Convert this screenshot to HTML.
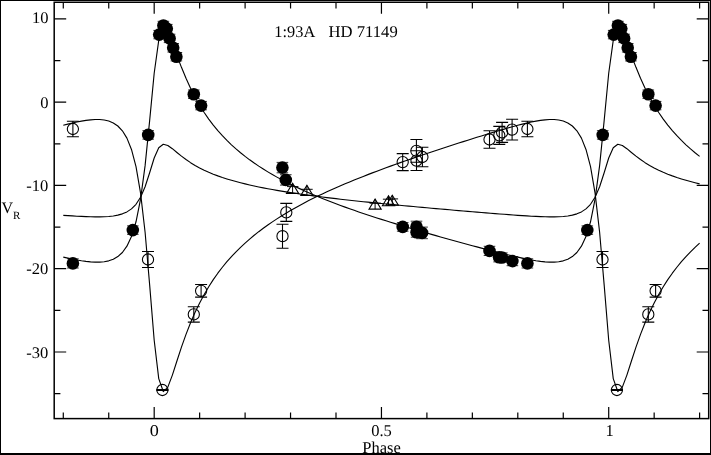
<!DOCTYPE html>
<html><head><meta charset="utf-8"><title>HD 71149</title>
<style>
html,body{margin:0;padding:0;background:#fff;}
body{width:711px;height:455px;overflow:hidden;position:relative;font-family:"Liberation Serif",serif;}
svg{display:block;}
</style></head><body>
<svg width="711" height="455" viewBox="0 0 711 455" style="position:absolute;left:0;top:0">
<rect x="0" y="0" width="711" height="455" fill="#fff"/>
<rect x="0" y="0" width="711" height="1" fill="#000"/>
<rect x="0" y="0" width="1" height="455" fill="#000"/>
<rect x="710" y="0" width="1" height="455" fill="#000"/>
<rect x="0" y="453" width="711" height="2" fill="#000"/>
<path d="M63.29,418.6 V412.40 M63.29,2.25 V8.45 M108.74,418.6 V412.40 M108.74,2.25 V8.45 M154.19,418.6 V407.10 M154.19,2.25 V13.75 M199.64,418.6 V412.40 M199.64,2.25 V8.45 M245.10,418.6 V412.40 M245.10,2.25 V8.45 M290.55,418.6 V412.40 M290.55,2.25 V8.45 M336.00,418.6 V412.40 M336.00,2.25 V8.45 M381.45,418.6 V407.10 M381.45,2.25 V13.75 M426.90,418.6 V412.40 M426.90,2.25 V8.45 M472.35,418.6 V412.40 M472.35,2.25 V8.45 M517.80,418.6 V412.40 M517.80,2.25 V8.45 M563.26,418.6 V412.40 M563.26,2.25 V8.45 M608.71,418.6 V407.10 M608.71,2.25 V13.75 M654.16,418.6 V412.40 M654.16,2.25 V8.45 M699.61,418.6 V412.40 M699.61,2.25 V8.45 M54.2,393.62 H60.40 M708.7,393.62 H702.50 M54.2,351.98 H66.20 M708.7,351.98 H696.70 M54.2,310.35 H60.40 M708.7,310.35 H702.50 M54.2,268.71 H66.20 M708.7,268.71 H696.70 M54.2,227.08 H60.40 M708.7,227.08 H702.50 M54.2,185.44 H66.20 M708.7,185.44 H696.70 M54.2,143.81 H60.40 M708.7,143.81 H702.50 M54.2,102.17 H66.20 M708.7,102.17 H696.70 M54.2,60.54 H60.40 M708.7,60.54 H702.50 M54.2,18.90 H66.20 M708.7,18.90 H696.70" stroke="#000" stroke-width="1.2" fill="none"/>
<rect x="54.2" y="2.25" width="654.50" height="416.35" fill="none" stroke="#000" stroke-width="1.5"/>
<path d="M63.29,257.17 L67.84,258.16 L72.38,259.10 L76.93,259.96 L81.47,260.72 L86.02,261.37 L90.56,261.85 L95.11,262.12 L99.65,262.11 L104.20,261.73 L108.74,260.83 L113.29,259.22 L117.83,256.59 L122.38,252.48 L126.92,246.18 L131.47,236.54 L136.01,221.77 L140.56,199.18 L145.10,165.63 L149.65,120.67 L154.19,73.26 L158.74,40.44 L163.28,29.35 L167.83,33.15 L172.37,43.43 L176.92,55.49 L181.46,67.33 L186.01,78.30 L190.55,88.23 L195.10,97.16 L199.64,105.21 L204.19,112.48 L208.73,119.08 L213.28,125.10 L217.83,130.62 L222.37,135.72 L226.92,140.44 L231.46,144.83 L236.01,148.94 L240.55,152.79 L245.10,156.41 L249.64,159.83 L254.19,163.07 L258.73,166.15 L263.28,169.09 L267.82,171.89 L272.37,174.57 L276.91,177.13 L281.46,179.60 L286.00,181.98 L290.55,184.27 L295.09,186.49 L299.64,188.63 L304.18,190.71 L308.73,192.73 L313.27,194.69 L317.82,196.59 L322.36,198.45 L326.91,200.26 L331.45,202.03 L336.00,203.76 L340.54,205.46 L345.09,207.12 L349.63,208.74 L354.18,210.34 L358.72,211.91 L363.27,213.45 L367.81,214.96 L372.36,216.46 L376.90,217.93 L381.45,219.38 L386.00,220.82 L390.54,222.23 L395.09,223.63 L399.63,225.01 L404.18,226.38 L408.72,227.74 L413.27,229.08 L417.81,230.41 L422.36,231.73 L426.90,233.04 L431.45,234.34 L435.99,235.63 L440.54,236.92 L445.08,238.19 L449.63,239.45 L454.17,240.71 L458.72,241.96 L463.26,243.21 L467.81,244.44 L472.35,245.67 L476.90,246.89 L481.44,248.10 L485.99,249.29 L490.53,250.48 L495.08,251.65 L499.62,252.81 L504.17,253.94 L508.71,255.05 L513.26,256.13 L517.80,257.17 L522.35,258.16 L526.89,259.10 L531.44,259.96 L535.98,260.72 L540.53,261.37 L545.08,261.85 L549.62,262.12 L554.17,262.11 L558.71,261.73 L563.26,260.83 L567.80,259.22 L572.35,256.59 L576.89,252.48 L581.44,246.18 L585.98,236.54 L590.53,221.77 L595.07,199.18 L599.62,165.63 L604.16,120.67 L608.71,73.26 L613.25,40.44 L617.80,29.35 L622.34,33.15 L626.89,43.43 L631.43,55.49 L635.98,67.33 L640.52,78.30 L645.07,88.23 L649.61,97.16 L654.16,105.21 L658.70,112.48 L663.25,119.08 L667.79,125.10 L672.34,130.62 L676.88,135.72 L681.43,140.44 L685.97,144.83 L690.52,148.94 L695.06,152.79 L699.61,156.41" fill="none" stroke="#000" stroke-width="1.12" stroke-linejoin="round"/>
<path d="M63.29,125.32 L67.84,124.16 L72.38,123.06 L76.93,122.06 L81.47,121.16 L86.02,120.41 L90.56,119.85 L95.11,119.53 L99.65,119.54 L104.20,119.99 L108.74,121.04 L113.29,122.93 L117.83,126.00 L122.38,130.80 L126.92,138.16 L131.47,149.42 L136.01,166.69 L140.56,193.09 L145.10,232.29 L149.65,284.83 L154.19,340.23 L158.74,378.59 L163.28,391.55 L167.83,387.11 L172.37,375.09 L176.92,361.01 L181.46,347.16 L186.01,334.35 L190.55,322.74 L195.10,312.30 L199.64,302.90 L204.19,294.41 L208.73,286.69 L213.28,279.66 L217.83,273.20 L222.37,267.24 L226.92,261.73 L231.46,256.60 L236.01,251.80 L240.55,247.30 L245.10,243.07 L249.64,239.07 L254.19,235.28 L258.73,231.68 L263.28,228.25 L267.82,224.98 L272.37,221.85 L276.91,218.85 L281.46,215.96 L286.00,213.18 L290.55,210.50 L295.09,207.91 L299.64,205.41 L304.18,202.98 L308.73,200.62 L313.27,198.33 L317.82,196.11 L322.36,193.94 L326.91,191.82 L331.45,189.75 L336.00,187.73 L340.54,185.75 L345.09,183.81 L349.63,181.91 L354.18,180.04 L358.72,178.21 L363.27,176.41 L367.81,174.64 L372.36,172.89 L376.90,171.17 L381.45,169.47 L386.00,167.80 L390.54,166.15 L395.09,164.51 L399.63,162.89 L404.18,161.29 L408.72,159.71 L413.27,158.14 L417.81,156.59 L422.36,155.04 L426.90,153.51 L431.45,151.99 L435.99,150.48 L440.54,148.99 L445.08,147.50 L449.63,146.02 L454.17,144.55 L458.72,143.09 L463.26,141.63 L467.81,140.19 L472.35,138.76 L476.90,137.33 L481.44,135.92 L485.99,134.52 L490.53,133.14 L495.08,131.77 L499.62,130.42 L504.17,129.09 L508.71,127.80 L513.26,126.53 L517.80,125.32 L522.35,124.16 L526.89,123.06 L531.44,122.06 L535.98,121.16 L540.53,120.41 L545.08,119.85 L549.62,119.53 L554.17,119.54 L558.71,119.99 L563.26,121.04 L567.80,122.93 L572.35,126.00 L576.89,130.80 L581.44,138.16 L585.98,149.42 L590.53,166.69 L595.07,193.09 L599.62,232.29 L604.16,284.83 L608.71,340.23 L613.25,378.59 L617.80,391.55 L622.34,387.11 L626.89,375.09 L631.43,361.01 L635.98,347.16 L640.52,334.35 L645.07,322.74 L649.61,312.30 L654.16,302.90 L658.70,294.41 L663.25,286.69 L667.79,279.66 L672.34,273.20 L676.88,267.24 L681.43,261.73 L685.97,256.60 L690.52,251.80 L695.06,247.30 L699.61,243.07" fill="none" stroke="#000" stroke-width="1.12" stroke-linejoin="round"/>
<path d="M63.29,215.32 L67.84,215.63 L72.38,215.92 L76.93,216.19 L81.47,216.42 L86.02,216.62 L90.56,216.77 L95.11,216.86 L99.65,216.86 L104.20,216.74 L108.74,216.46 L113.29,215.95 L117.83,215.13 L122.38,213.85 L126.92,211.89 L131.47,208.89 L136.01,204.28 L140.56,197.24 L145.10,186.78 L149.65,172.77 L154.19,157.99 L158.74,147.76 L163.28,144.30 L167.83,145.49 L172.37,148.69 L176.92,152.45 L181.46,156.14 L186.01,159.56 L190.55,162.66 L195.10,165.44 L199.64,167.95 L204.19,170.21 L208.73,172.27 L213.28,174.15 L217.83,175.87 L222.37,177.46 L226.92,178.93 L231.46,180.30 L236.01,181.58 L240.55,182.78 L245.10,183.91 L249.64,184.98 L254.19,185.99 L258.73,186.95 L263.28,187.86 L267.82,188.73 L272.37,189.57 L276.91,190.37 L281.46,191.14 L286.00,191.88 L290.55,192.59 L295.09,193.28 L299.64,193.95 L304.18,194.60 L308.73,195.23 L313.27,195.84 L317.82,196.43 L322.36,197.01 L326.91,197.58 L331.45,198.13 L336.00,198.67 L340.54,199.20 L345.09,199.71 L349.63,200.22 L354.18,200.72 L358.72,201.21 L363.27,201.69 L367.81,202.16 L372.36,202.63 L376.90,203.09 L381.45,203.54 L386.00,203.98 L390.54,204.43 L395.09,204.86 L399.63,205.29 L404.18,205.72 L408.72,206.14 L413.27,206.56 L417.81,206.98 L422.36,207.39 L426.90,207.80 L431.45,208.20 L435.99,208.60 L440.54,209.00 L445.08,209.40 L449.63,209.79 L454.17,210.19 L458.72,210.58 L463.26,210.96 L467.81,211.35 L472.35,211.73 L476.90,212.11 L481.44,212.49 L485.99,212.86 L490.53,213.23 L495.08,213.60 L499.62,213.96 L504.17,214.31 L508.71,214.66 L513.26,214.99 L517.80,215.32 L522.35,215.63 L526.89,215.92 L531.44,216.19 L535.98,216.42 L540.53,216.62 L545.08,216.77 L549.62,216.86 L554.17,216.86 L558.71,216.74 L563.26,216.46 L567.80,215.95 L572.35,215.13 L576.89,213.85 L581.44,211.89 L585.98,208.89 L590.53,204.28 L595.07,197.24 L599.62,186.78 L604.16,172.77 L608.71,157.99 L613.25,147.76 L617.80,144.30 L622.34,145.49 L626.89,148.69 L631.43,152.45 L635.98,156.14 L640.52,159.56 L645.07,162.66 L649.61,165.44 L654.16,167.95 L658.70,170.21 L663.25,172.27 L667.79,174.15 L672.34,175.87 L676.88,177.46 L681.43,178.93 L685.97,180.30 L690.52,181.58 L695.06,182.78 L699.61,183.91" fill="none" stroke="#000" stroke-width="1.12" stroke-linejoin="round"/>
<path d="M292.60,183.40 L298.70,193.40 L286.50,193.40 Z" fill="none" stroke="#000" stroke-width="1.08" stroke-linejoin="miter"/>
<path d="M292.60,183.40 V193.40 M287.00,186.60 H298.40" fill="none" stroke="#000" stroke-width="0.98"/>
<path d="M306.90,185.40 L313.00,195.40 L300.80,195.40 Z" fill="none" stroke="#000" stroke-width="1.08" stroke-linejoin="miter"/>
<path d="M306.90,185.40 V195.40 M301.30,189.30 H312.70" fill="none" stroke="#000" stroke-width="0.98"/>
<path d="M375.10,199.10 L381.20,209.10 L369.00,209.10 Z" fill="none" stroke="#000" stroke-width="1.08" stroke-linejoin="miter"/>
<path d="M375.10,199.10 V209.10 M369.50,203.20 H380.90" fill="none" stroke="#000" stroke-width="0.98"/>
<path d="M388.50,195.80 L394.60,205.80 L382.40,205.80 Z" fill="none" stroke="#000" stroke-width="1.08" stroke-linejoin="miter"/>
<path d="M388.50,195.80 V205.80 M382.90,199.20 H394.30" fill="none" stroke="#000" stroke-width="0.98"/>
<path d="M392.30,195.30 L398.40,205.30 L386.20,205.30 Z" fill="none" stroke="#000" stroke-width="1.08" stroke-linejoin="miter"/>
<path d="M392.30,195.30 V205.30 M386.70,198.90 H398.10" fill="none" stroke="#000" stroke-width="0.98"/>
<circle cx="148.00" cy="259.50" r="5.6" fill="none" stroke="#000" stroke-width="1.08"/>
<path d="M148.00,251.50 V267.50 M142.00,251.50 H154.00 M142.00,267.50 H154.00" fill="none" stroke="#000" stroke-width="1.08"/>
<circle cx="602.51" cy="259.50" r="5.6" fill="none" stroke="#000" stroke-width="1.08"/>
<path d="M602.51,251.50 V267.50 M596.51,251.50 H608.51 M596.51,267.50 H608.51" fill="none" stroke="#000" stroke-width="1.08"/>
<circle cx="162.40" cy="390.00" r="5.6" fill="none" stroke="#000" stroke-width="1.08"/>
<path d="M162.40,389.65 V390.35 M156.40,389.65 H168.40 M156.40,390.35 H168.40" fill="none" stroke="#000" stroke-width="1.08"/>
<circle cx="616.91" cy="390.00" r="5.6" fill="none" stroke="#000" stroke-width="1.08"/>
<path d="M616.91,389.65 V390.35 M610.91,389.65 H622.91 M610.91,390.35 H622.91" fill="none" stroke="#000" stroke-width="1.08"/>
<circle cx="193.80" cy="314.40" r="5.6" fill="none" stroke="#000" stroke-width="1.08"/>
<path d="M193.80,306.70 V322.10 M187.80,306.70 H199.80 M187.80,322.10 H199.80" fill="none" stroke="#000" stroke-width="1.08"/>
<circle cx="648.31" cy="314.40" r="5.6" fill="none" stroke="#000" stroke-width="1.08"/>
<path d="M648.31,306.70 V322.10 M642.31,306.70 H654.31 M642.31,322.10 H654.31" fill="none" stroke="#000" stroke-width="1.08"/>
<circle cx="201.10" cy="290.80" r="5.6" fill="none" stroke="#000" stroke-width="1.08"/>
<path d="M201.10,284.50 V297.10 M195.10,284.50 H207.10 M195.10,297.10 H207.10" fill="none" stroke="#000" stroke-width="1.08"/>
<circle cx="655.61" cy="290.80" r="5.6" fill="none" stroke="#000" stroke-width="1.08"/>
<path d="M655.61,284.50 V297.10 M649.61,284.50 H661.61 M649.61,297.10 H661.61" fill="none" stroke="#000" stroke-width="1.08"/>
<circle cx="282.50" cy="236.20" r="5.6" fill="none" stroke="#000" stroke-width="1.08"/>
<path d="M282.50,224.20 V248.20 M276.50,224.20 H288.50 M276.50,248.20 H288.50" fill="none" stroke="#000" stroke-width="1.08"/>
<circle cx="286.30" cy="212.40" r="5.6" fill="none" stroke="#000" stroke-width="1.08"/>
<path d="M286.30,203.40 V221.40 M280.30,203.40 H292.30 M280.30,221.40 H292.30" fill="none" stroke="#000" stroke-width="1.08"/>
<circle cx="402.70" cy="162.10" r="5.6" fill="none" stroke="#000" stroke-width="1.08"/>
<path d="M402.70,153.60 V170.60 M396.70,153.60 H408.70 M396.70,170.60 H408.70" fill="none" stroke="#000" stroke-width="1.08"/>
<circle cx="416.40" cy="150.90" r="5.6" fill="none" stroke="#000" stroke-width="1.08"/>
<path d="M416.40,139.50 V162.30 M410.40,139.50 H422.40 M410.40,162.30 H422.40" fill="none" stroke="#000" stroke-width="1.08"/>
<circle cx="416.50" cy="160.60" r="5.6" fill="none" stroke="#000" stroke-width="1.08"/>
<path d="M416.50,150.70 V170.50 M410.50,150.70 H422.50 M410.50,170.50 H422.50" fill="none" stroke="#000" stroke-width="1.08"/>
<circle cx="422.40" cy="157.00" r="5.6" fill="none" stroke="#000" stroke-width="1.08"/>
<path d="M422.40,147.20 V166.80 M416.40,147.20 H428.40 M416.40,166.80 H428.40" fill="none" stroke="#000" stroke-width="1.08"/>
<circle cx="489.50" cy="139.50" r="5.6" fill="none" stroke="#000" stroke-width="1.08"/>
<path d="M489.50,130.80 V148.20 M483.50,130.80 H495.50 M483.50,148.20 H495.50" fill="none" stroke="#000" stroke-width="1.08"/>
<circle cx="499.30" cy="135.40" r="5.6" fill="none" stroke="#000" stroke-width="1.08"/>
<path d="M499.30,126.40 V144.40 M493.30,126.40 H505.30 M493.30,144.40 H505.30" fill="none" stroke="#000" stroke-width="1.08"/>
<circle cx="502.10" cy="132.40" r="5.6" fill="none" stroke="#000" stroke-width="1.08"/>
<path d="M502.10,122.40 V142.40 M496.10,122.40 H508.10 M496.10,142.40 H508.10" fill="none" stroke="#000" stroke-width="1.08"/>
<circle cx="512.10" cy="129.60" r="5.6" fill="none" stroke="#000" stroke-width="1.08"/>
<path d="M512.10,119.20 V140.00 M506.10,119.20 H518.10 M506.10,140.00 H518.10" fill="none" stroke="#000" stroke-width="1.08"/>
<circle cx="72.89" cy="129.00" r="5.6" fill="none" stroke="#000" stroke-width="1.08"/>
<path d="M72.89,121.20 V136.80 M66.89,121.20 H78.89 M66.89,136.80 H78.89" fill="none" stroke="#000" stroke-width="1.08"/>
<circle cx="527.40" cy="129.00" r="5.6" fill="none" stroke="#000" stroke-width="1.08"/>
<path d="M527.40,121.20 V136.80 M521.40,121.20 H533.40 M521.40,136.80 H533.40" fill="none" stroke="#000" stroke-width="1.08"/>
<circle cx="132.80" cy="230.10" r="6.3" fill="#000"/>
<path d="M127.00,225.90 H138.60 M127.00,234.30 H138.60" fill="none" stroke="#000" stroke-width="0.8"/>
<circle cx="587.31" cy="230.10" r="6.3" fill="#000"/>
<path d="M581.51,225.90 H593.11 M581.51,234.30 H593.11" fill="none" stroke="#000" stroke-width="0.8"/>
<circle cx="148.20" cy="134.90" r="6.3" fill="#000"/>
<path d="M142.40,130.70 H154.00 M142.40,139.10 H154.00" fill="none" stroke="#000" stroke-width="0.8"/>
<circle cx="602.71" cy="134.90" r="6.3" fill="#000"/>
<path d="M596.91,130.70 H608.51 M596.91,139.10 H608.51" fill="none" stroke="#000" stroke-width="0.8"/>
<circle cx="159.20" cy="34.60" r="6.3" fill="#000"/>
<path d="M153.40,30.40 H165.00 M153.40,38.80 H165.00" fill="none" stroke="#000" stroke-width="0.8"/>
<circle cx="613.71" cy="34.60" r="6.3" fill="#000"/>
<path d="M607.91,30.40 H619.51 M607.91,38.80 H619.51" fill="none" stroke="#000" stroke-width="0.8"/>
<circle cx="163.40" cy="25.50" r="6.3" fill="#000"/>
<path d="M157.60,21.30 H169.20 M157.60,29.70 H169.20" fill="none" stroke="#000" stroke-width="0.8"/>
<circle cx="617.91" cy="25.50" r="6.3" fill="#000"/>
<path d="M612.11,21.30 H623.71 M612.11,29.70 H623.71" fill="none" stroke="#000" stroke-width="0.8"/>
<circle cx="166.80" cy="28.60" r="6.3" fill="#000"/>
<path d="M161.00,24.40 H172.60 M161.00,32.80 H172.60" fill="none" stroke="#000" stroke-width="0.8"/>
<circle cx="621.31" cy="28.60" r="6.3" fill="#000"/>
<path d="M615.51,24.40 H627.11 M615.51,32.80 H627.11" fill="none" stroke="#000" stroke-width="0.8"/>
<circle cx="169.60" cy="38.40" r="6.3" fill="#000"/>
<path d="M163.80,34.20 H175.40 M163.80,42.60 H175.40" fill="none" stroke="#000" stroke-width="0.8"/>
<circle cx="624.11" cy="38.40" r="6.3" fill="#000"/>
<path d="M618.31,34.20 H629.91 M618.31,42.60 H629.91" fill="none" stroke="#000" stroke-width="0.8"/>
<circle cx="173.20" cy="47.80" r="6.3" fill="#000"/>
<path d="M167.40,43.60 H179.00 M167.40,52.00 H179.00" fill="none" stroke="#000" stroke-width="0.8"/>
<circle cx="627.71" cy="47.80" r="6.3" fill="#000"/>
<path d="M621.91,43.60 H633.51 M621.91,52.00 H633.51" fill="none" stroke="#000" stroke-width="0.8"/>
<circle cx="176.40" cy="56.70" r="6.3" fill="#000"/>
<path d="M170.60,52.50 H182.20 M170.60,60.90 H182.20" fill="none" stroke="#000" stroke-width="0.8"/>
<circle cx="630.91" cy="56.70" r="6.3" fill="#000"/>
<path d="M625.11,52.50 H636.71 M625.11,60.90 H636.71" fill="none" stroke="#000" stroke-width="0.8"/>
<circle cx="193.80" cy="94.20" r="6.3" fill="#000"/>
<path d="M188.00,90.00 H199.60 M188.00,98.40 H199.60" fill="none" stroke="#000" stroke-width="0.8"/>
<circle cx="648.31" cy="94.20" r="6.3" fill="#000"/>
<path d="M642.51,90.00 H654.11 M642.51,98.40 H654.11" fill="none" stroke="#000" stroke-width="0.8"/>
<circle cx="201.10" cy="105.60" r="6.3" fill="#000"/>
<path d="M195.30,101.40 H206.90 M195.30,109.80 H206.90" fill="none" stroke="#000" stroke-width="0.8"/>
<circle cx="655.61" cy="105.60" r="6.3" fill="#000"/>
<path d="M649.81,101.40 H661.41 M649.81,109.80 H661.41" fill="none" stroke="#000" stroke-width="0.8"/>
<circle cx="282.40" cy="167.60" r="6.3" fill="#000"/>
<path d="M276.60,162.40 H288.20 M276.60,172.80 H288.20" fill="none" stroke="#000" stroke-width="0.8"/>
<circle cx="285.80" cy="179.90" r="6.3" fill="#000"/>
<path d="M280.00,174.70 H291.60 M280.00,185.10 H291.60" fill="none" stroke="#000" stroke-width="0.8"/>
<circle cx="402.70" cy="226.90" r="6.3" fill="#000"/>
<path d="M396.90,222.60 H408.50 M396.90,231.20 H408.50" fill="none" stroke="#000" stroke-width="0.8"/>
<circle cx="416.50" cy="226.70" r="6.3" fill="#000"/>
<path d="M410.70,221.20 H422.30 M410.70,232.20 H422.30" fill="none" stroke="#000" stroke-width="0.8"/>
<circle cx="416.60" cy="232.20" r="6.3" fill="#000"/>
<path d="M410.80,227.20 H422.40 M410.80,237.20 H422.40" fill="none" stroke="#000" stroke-width="0.8"/>
<circle cx="422.10" cy="232.90" r="6.3" fill="#000"/>
<path d="M416.30,227.10 H427.90 M416.30,238.70 H427.90" fill="none" stroke="#000" stroke-width="0.8"/>
<circle cx="489.50" cy="250.90" r="6.3" fill="#000"/>
<path d="M483.70,246.30 H495.30 M483.70,255.50 H495.30" fill="none" stroke="#000" stroke-width="0.8"/>
<circle cx="499.10" cy="257.30" r="6.3" fill="#000"/>
<path d="M493.30,252.70 H504.90 M493.30,261.90 H504.90" fill="none" stroke="#000" stroke-width="0.8"/>
<circle cx="501.90" cy="257.50" r="6.3" fill="#000"/>
<path d="M496.10,252.90 H507.70 M496.10,262.10 H507.70" fill="none" stroke="#000" stroke-width="0.8"/>
<circle cx="512.40" cy="261.10" r="6.3" fill="#000"/>
<path d="M506.60,256.50 H518.20 M506.60,265.70 H518.20" fill="none" stroke="#000" stroke-width="0.8"/>
<circle cx="72.89" cy="263.40" r="6.3" fill="#000"/>
<path d="M67.09,258.80 H78.69 M67.09,268.00 H78.69" fill="none" stroke="#000" stroke-width="0.8"/>
<circle cx="527.40" cy="263.40" r="6.3" fill="#000"/>
<path d="M521.60,258.80 H533.20 M521.60,268.00 H533.20" fill="none" stroke="#000" stroke-width="0.8"/>
<g font-family="Liberation Serif, serif" font-size="16.5px" fill="#000" text-rendering="geometricPrecision" style="filter:grayscale(1)">
<text x="48.4" y="23.40" font-size="16.2px" textLength="16.50" lengthAdjust="spacingAndGlyphs" text-anchor="end">10</text>
<text x="48.4" y="107.57" font-size="16.2px" textLength="8.25" lengthAdjust="spacingAndGlyphs" text-anchor="end">0</text>
<text x="48.4" y="190.64" font-size="16.2px" textLength="22.05" lengthAdjust="spacingAndGlyphs" text-anchor="end">-10</text>
<text x="48.4" y="274.11" font-size="16.2px" textLength="22.05" lengthAdjust="spacingAndGlyphs" text-anchor="end">-20</text>
<text x="48.4" y="357.68" font-size="16.2px" textLength="22.05" lengthAdjust="spacingAndGlyphs" text-anchor="end">-30</text>
<text transform="translate(154.19,435.6) scale(1.1,1)" x="0" y="0" text-anchor="middle">0</text>
<text transform="translate(381.45,435.6) scale(1.0,1)" x="0" y="0" text-anchor="middle">0.5</text>
<text transform="translate(609.51,435.6) scale(1.0,1)" x="0" y="0" text-anchor="middle">1</text>
<text x="381.6" y="453.4" text-anchor="middle">Phase</text>
<text x="1.5" y="212.5" font-size="16px">V</text>
<text x="12.9" y="218.8" font-size="11px">R</text>
<text x="274.3" y="36.8" font-size="16.4px" textLength="40.9" lengthAdjust="spacingAndGlyphs">1:93A</text>
<text x="328.5" y="36.8" font-size="16.4px" textLength="69.2" lengthAdjust="spacingAndGlyphs">HD 71149</text>
</g>
</svg>
</body></html>
